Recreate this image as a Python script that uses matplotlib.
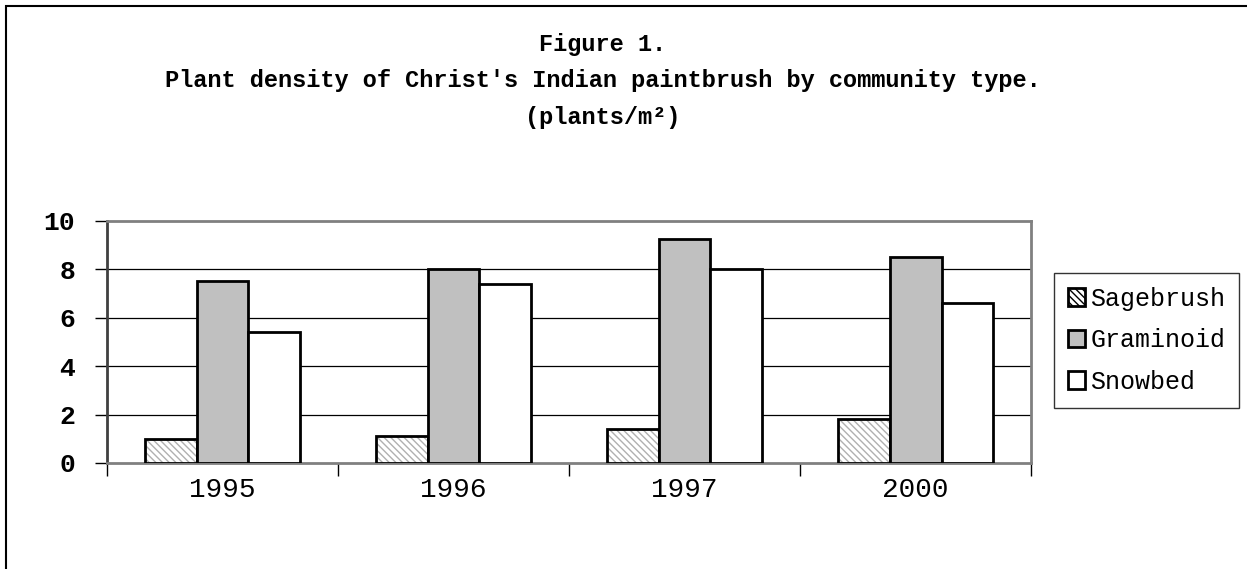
import numpy as np
import matplotlib.pyplot as plt
from matplotlib.patches import Rectangle

years = ['1995', '1996', '1997', '2000']
series = ['Sagebrush', 'Graminoid', 'Snowbed']
sagebrush = [1.0, 1.1, 1.4, 1.8]
graminoid = [7.5, 8.0, 9.25, 8.5]
snowbed = [5.4, 7.4, 8.0, 6.6]

mono = 'Liberation Mono'

fig = plt.figure(figsize=(12.47, 5.69), dpi=100)
ax = fig.add_axes([0.0858, 0.1863, 0.741, 0.4253])

x = np.arange(len(years))
w = 0.225

# sagebrush: light hatched fill, then black outline on top
ax.bar(x - w, sagebrush, w, color='white', edgecolor='#b0b0b0', hatch='\\\\\\\\\\',
       linewidth=0, zorder=3)
ax.bar(x - w, sagebrush, w, fill=False, edgecolor='black', linewidth=2, zorder=4)
ax.bar(x, graminoid, w, color='#c0c0c0', edgecolor='black', linewidth=2, zorder=4)
ax.bar(x + w, snowbed, w, color='white', edgecolor='black', linewidth=2, zorder=4)

ax.set_xlim(-0.5, len(years) - 0.5)
ax.set_ylim(0, 10)
ax.set_yticks(range(0, 11, 2))
ax.set_yticklabels([str(v) for v in range(0, 11, 2)], fontfamily=mono,
                   fontweight='bold', fontsize=19)
ax.set_xticks(x)
ax.set_xticklabels(years, fontfamily=mono, fontsize=20)
ax.set_xticks(np.arange(-0.5, len(years)), minor=True)
ax.tick_params(axis='x', which='major', length=0, pad=10)
ax.tick_params(axis='x', which='minor', length=9, width=1, color='black')
ax.tick_params(axis='y', length=9, width=1, pad=14)

for v in [2, 4, 6, 8]:
    ax.axhline(v, color='black', linewidth=0.9, zorder=1)

for s in ['top', 'right', 'bottom']:
    ax.spines[s].set_color('#808080')
    ax.spines[s].set_linewidth(2)
ax.spines['left'].set_color('#404040')
ax.spines['left'].set_linewidth(2)

# legend handles drawn as small squares
h1 = Rectangle((0, 0), 1, 1, facecolor='white', edgecolor='black', linewidth=2,
               hatch='\\\\\\\\\\')
h2 = Rectangle((0, 0), 1, 1, facecolor='#c0c0c0', edgecolor='black', linewidth=2)
h3 = Rectangle((0, 0), 1, 1, facecolor='white', edgecolor='black', linewidth=2)
leg = fig.legend([h1, h2, h3], series, loc='upper left',
                 bbox_to_anchor=(1054 / 1247, 1 - 273 / 569),
                 prop={'family': mono, 'size': 18}, frameon=True, fancybox=False,
                 edgecolor='black', handlelength=0.7, handleheight=0.7,
                 handletextpad=0.2, labelspacing=0.7, borderpad=0.55,
                 borderaxespad=0)
leg.get_frame().set_linewidth(1)

fig.text(0.4836, 0.921, 'Figure 1.', ha='center', va='center', fontfamily=mono,
         fontweight='bold', fontsize=17)
fig.text(0.4836, 0.858, "Plant density of Christ's Indian paintbrush by community type.",
         ha='center', va='center', fontfamily=mono, fontweight='bold', fontsize=17)
fig.text(0.4836, 0.794, '(plants/m\u00b2)', ha='center', va='center', fontfamily=mono,
         fontweight='bold', fontsize=17)

# outer chart border (left and top edges visible)
fig.add_artist(Rectangle((6 / 1247, -0.1), 1.2, 1 - 6 / 569 + 0.1,
                         transform=fig.transFigure, fill=False,
                         edgecolor='black', linewidth=1.5))

fig.savefig('out.png', dpi=100)
